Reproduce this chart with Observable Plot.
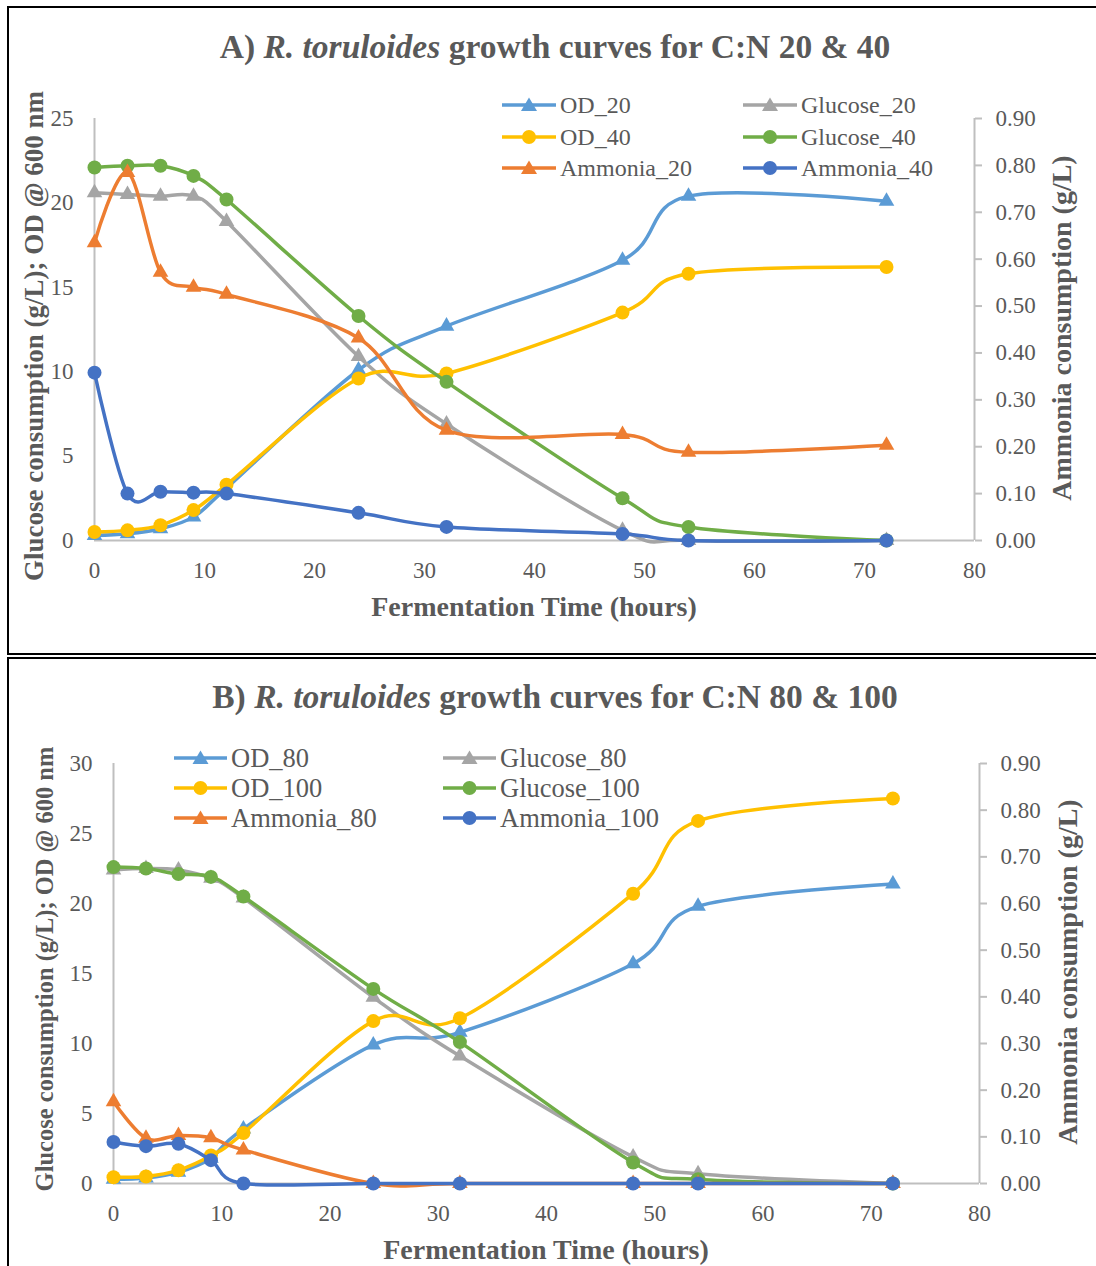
<!DOCTYPE html>
<html><head><meta charset="utf-8">
<script src="https://cdn.jsdelivr.net/npm/d3@7"></script>
<script src="https://cdn.jsdelivr.net/npm/@observablehq/plot@0.6"></script>
<style>
body{margin:0;background:#fff;font-family:"Liberation Serif","Times New Roman",serif;}
#page{position:relative;width:1096px;height:1266px;overflow:hidden;background:#fff;}
.frame{position:absolute;border:2px solid #000;box-sizing:border-box;}
.title{position:absolute;font-weight:bold;font-size:33.5px;color:#595959;white-space:nowrap;transform:translate(-50%,-50%);}
.axt{position:absolute;font-weight:bold;font-size:28px;color:#595959;white-space:nowrap;transform:translate(-50%,-50%);}
.axt.rot{transform:translate(-50%,-50%) rotate(-90deg);}
.leg{position:absolute;color:#595959;display:flex;align-items:center;white-space:nowrap;height:24px;}
.leg svg{margin-right:4px;}
.plot{position:absolute;left:0;}
</style></head>
<body><div id="page"></div>
<script>
// ---- data ----
const hours = [0, 3, 6, 9, 12, 24, 32, 48, 54, 72];
const xTicks = [0, 10, 20, 30, 40, 50, 60, 70, 80];
const ammoniaTicks = [0, 0.1, 0.2, 0.3, 0.4, 0.5, 0.6, 0.7, 0.8, 0.9];
const leftTicksA = [0, 5, 10, 15, 20, 25];
const leftTicksB = [0, 5, 10, 15, 20, 25, 30];

// Panel A (C:N 20 & 40)
const od20      = [0.3, 0.4, 0.7, 1.4, 3.1, 10.1, 12.7, 16.6, 20.4, 20.1];
const glucose20 = [20.6, 20.5, 20.4, 20.4, 18.9, 10.9, 6.9, 0.6, 0, 0];
const od40      = [0.5, 0.6, 0.9, 1.8, 3.3, 9.6, 9.9, 13.5, 15.8, 16.2];
const glucose40 = [22.1, 22.2, 22.2, 21.6, 20.2, 13.3, 9.4, 2.5, 0.8, 0];
const ammonia20 = [0.635, 0.785, 0.572, 0.54, 0.525, 0.432, 0.235, 0.226, 0.188, 0.203];
const ammonia40 = [0.358, 0.100, 0.104, 0.102, 0.100, 0.059, 0.029, 0.014, 0, 0];

// Panel B (C:N 80 & 100)
const od80       = [0.3, 0.4, 0.8, 1.8, 3.9, 9.9, 10.8, 15.7, 19.8, 21.4];
const glucose80  = [22.4, 22.5, 22.4, 21.8, 20.4, 13.3, 9.1, 1.9, 0.7, 0];
const od100      = [0.45, 0.5, 0.95, 2.0, 3.6, 11.6, 11.8, 20.7, 25.9, 27.5];
const glucose100 = [22.6, 22.5, 22.1, 21.9, 20.5, 13.9, 10.1, 1.5, 0.3, 0];
const ammonia80  = [0.175, 0.097, 0.103, 0.098, 0.072, 0, 0, 0, 0, 0];
const ammonia100 = [0.089, 0.080, 0.085, 0.050, 0, 0, 0, 0, 0, 0];

const C = {od1:"#5B9BD5", glu1:"#A5A5A5", od2:"#FFC000", glu2:"#70AD47", amm1:"#ED7D31", amm2:"#4472C4"};

const page = document.getElementById("page");
function el(tag, cls, style, html){const e=document.createElement(tag); if(cls) e.className=cls; Object.assign(e.style, style||{}); if(html!=null) e.innerHTML=html; page.appendChild(e); return e;}

function legendSwatch(color, symbol, w){
  const ns="http://www.w3.org/2000/svg";
  const s=document.createElementNS(ns,"svg"); s.setAttribute("width",w); s.setAttribute("height",20);
  const l=document.createElementNS(ns,"line"); l.setAttribute("x1",0); l.setAttribute("x2",w); l.setAttribute("y1",10); l.setAttribute("y2",10);
  l.setAttribute("stroke",color); l.setAttribute("stroke-width",3.5); s.appendChild(l);
  const cx = w/2;
  if(symbol==="circle"){const c=document.createElementNS(ns,"circle"); c.setAttribute("cx",cx); c.setAttribute("cy",10); c.setAttribute("r",7); c.setAttribute("fill",color); s.appendChild(c);}
  else {const p=document.createElementNS(ns,"path"); p.setAttribute("d",`M${cx},2.5L${cx+8},16L${cx-8},16Z`); p.setAttribute("fill",color); s.appendChild(p);}
  return s;
}

function panel(cfg){
  const k = cfg.yMax / 0.9;
  const marks = [
    Plot.ruleX([0], {stroke:"#BFBFBF", strokeWidth:2}),
    Plot.ruleX([80], {stroke:"#BFBFBF", strokeWidth:2}),
    Plot.ruleY([0], {stroke:"#BFBFBF", strokeWidth:2}),
    Plot.axisY({anchor:"left", ticks:cfg.leftTicks, tickSize:0, tickPadding:21, fontSize:23, fill:"#595959", label:null}),
    Plot.axisY({anchor:"right", ticks:ammoniaTicks.map(v=>v*k), tickFormat:d=>(d/k).toFixed(2), tickSize:7, tickPadding:14, fontSize:23, stroke:"#BFBFBF", strokeWidth:2, fill:"#595959", label:null}),
    Plot.axisX({anchor:"bottom", ticks:xTicks, tickSize:0, tickPadding:21, fontSize:23, fill:"#595959", label:null})
  ];
  for(const s of cfg.series){
    const data = hours.map((t,i)=>({t, v: s.values[i]}));
    const yf = s.right ? (d=>d.v*k) : (d=>d.v);
    marks.push(Plot.line(data, {x:"t", y:yf, stroke:s.color, strokeWidth:3.5, curve:"cardinal"}));
    marks.push(Plot.dot(data, {x:"t", y:yf, fill:s.color, symbol:s.symbol, r:s.symbol==="circle"?7:5.8, stroke:"none"}));
  }
  const svg = Plot.plot({
    width:1096, height:cfg.height,
    marginLeft:cfg.ml, marginRight:cfg.mr, marginTop:cfg.mt, marginBottom:cfg.mb,
    x:{domain:[0,80]}, y:{domain:[0,cfg.yMax]},
    style:{fontFamily:'"Liberation Serif","Times New Roman",serif', background:"transparent", overflow:"visible"},
    marks
  });
  svg.classList.add("plot"); svg.style.top = cfg.top+"px";
  page.appendChild(svg);

  el("div","title",{left:cfg.titleX+"px", top:cfg.titleY+"px"}, cfg.title);
  el("div","axt",{left:cfg.xtX+"px", top:cfg.xtY+"px"}, "Fermentation Time (hours)");
  el("div","axt rot",{left:cfg.ylX+"px", top:cfg.ylY+"px", fontSize:cfg.ylFont+"px"}, "Glucose consumption (g/L); OD @ 600 nm");
  el("div","axt rot",{left:cfg.yrX+"px", top:cfg.yrY+"px"}, "Ammonia consumption (g/L)");

  cfg.legend.forEach((col, ci)=>col.forEach((name, ri)=>{
    const s = cfg.series.find(d=>d.name===name);
    const e = el("div","leg",{left:cfg.legX[ci]+"px", top:(cfg.legY[ri]-12)+"px", fontSize:cfg.legFont+"px"});
    e.appendChild(legendSwatch(s.color, s.symbol, cfg.legW));
    e.appendChild(document.createTextNode(name));
  }));
}

el("div","frame",{left:"7px", top:"6px", width:"1095px", height:"649px"});
el("div","frame",{left:"7px", top:"657px", width:"1095px", height:"620px"});

panel({
  top:0, height:655, ml:94, mr:122, mt:118, mb:115, yMax:25, leftTicks:leftTicksA,
  title:'A) <i>R. toruloides</i> growth curves for C:N 20 &amp; 40', titleX:555, titleY:47,
  xtX:534, xtY:607, ylX:34, ylY:336, ylFont:27, yrX:1062, yrY:328,
  legX:[502, 743], legY:[105, 137, 168], legFont:24, legW:54,
  series:[
    {name:"OD_20", values:od20, color:C.od1, symbol:"triangle"},
    {name:"Glucose_20", values:glucose20, color:C.glu1, symbol:"triangle"},
    {name:"OD_40", values:od40, color:C.od2, symbol:"circle"},
    {name:"Glucose_40", values:glucose40, color:C.glu2, symbol:"circle"},
    {name:"Ammonia_20", values:ammonia20, color:C.amm1, symbol:"triangle", right:true},
    {name:"Ammonia_40", values:ammonia40, color:C.amm2, symbol:"circle", right:true}
  ],
  legend:[["OD_20","OD_40","Ammonia_20"],["Glucose_20","Glucose_40","Ammonia_40"]]
});

panel({
  top:657, height:609, ml:113, mr:117, mt:106, mb:83, yMax:30, leftTicks:leftTicksB,
  title:'B) <i>R. toruloides</i> growth curves for C:N 80 &amp; 100', titleX:555, titleY:697,
  xtX:546, xtY:1250, ylX:45, ylY:969, ylFont:24.5, yrX:1068, yrY:972,
  legX:[174, 443], legY:[758, 788, 818], legFont:26.5, legW:53,
  series:[
    {name:"OD_80", values:od80, color:C.od1, symbol:"triangle"},
    {name:"Glucose_80", values:glucose80, color:C.glu1, symbol:"triangle"},
    {name:"OD_100", values:od100, color:C.od2, symbol:"circle"},
    {name:"Glucose_100", values:glucose100, color:C.glu2, symbol:"circle"},
    {name:"Ammonia_80", values:ammonia80, color:C.amm1, symbol:"triangle", right:true},
    {name:"Ammonia_100", values:ammonia100, color:C.amm2, symbol:"circle", right:true}
  ],
  legend:[["OD_80","OD_100","Ammonia_80"],["Glucose_80","Glucose_100","Ammonia_100"]]
});
</script></body></html>
